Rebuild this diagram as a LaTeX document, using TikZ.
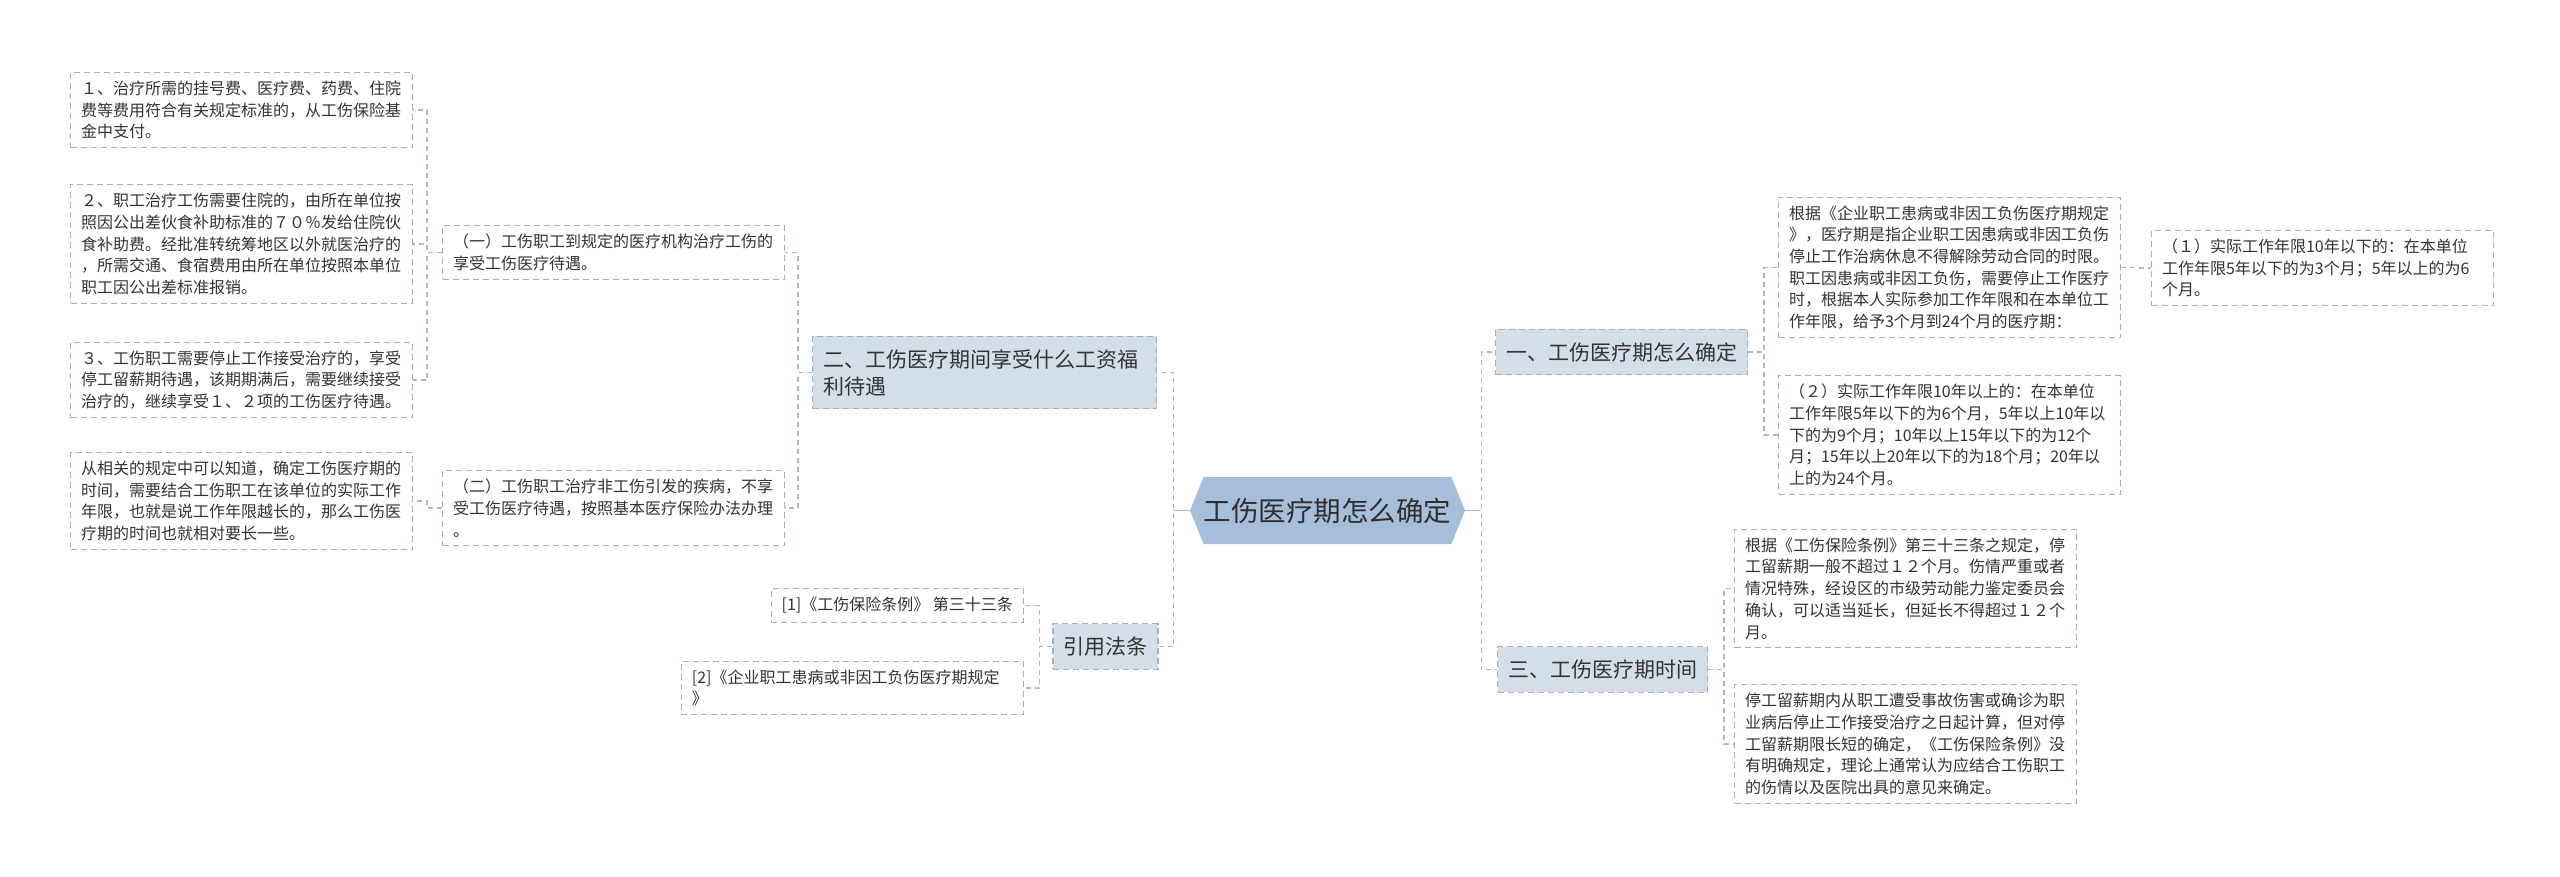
\documentclass[tikz,border=0pt]{standalone}
\usepackage{fontspec}
\setmainfont{Noto Sans CJK SC}
\usetikzlibrary{shapes.symbols}
\definecolor{hubfill}{HTML}{A5BFDA}
\definecolor{branchfill}{HTML}{D4DEE8}
\definecolor{boxline}{HTML}{A3AFBC}
\definecolor{linkline}{HTML}{A9B9CA}
\definecolor{inktext}{HTML}{333333}

\begin{document}
\begin{tikzpicture}[
  x=1pt, y=-1pt,
  link/.style={draw=linkline, line width=1.3pt, dash pattern=on 5pt off 4pt},
  hublink/.style={draw=hubfill, line width=1.8pt},
  note/.style={draw=boxline, line width=1.1pt, dash pattern=on 6pt off 4pt, fill=white, text=inktext, align=left, inner xsep=10.5pt, inner ysep=8.5pt, font=\fontsize{16}{21.7}\selectfont},
  leaf/.style={note, text width=321pt},
  branch/.style={draw=boxline, line width=1.1pt, dash pattern=on 6pt off 4pt, fill=branchfill, text=inktext, align=left, inner xsep=10.5pt, inner ysep=13pt, font=\fontsize{21}{27}\selectfont},
  hub/.style={signal, signal to=east and west, signal pointer angle=136, fill=hubfill, text=inktext!90!black, minimum width=275pt, minimum height=67pt, inner sep=0pt, font=\fontsize{27.5}{33}\selectfont}
]
\useasboundingbox[fill=white] (0,0) rectangle (2560,876);

\node[hub] (root) at (1327.5,510.5) {工伤医疗期怎么确定};

\node[branch, text width=323pt] (er) at (984.5,372.5) {二、工伤医疗期间享受什么工资福\\利待遇};
\node[branch] (yinyong) at (1105.5,646.5) {引用法条};
\node[branch] (yi) at (1621.5,352) {一、工伤医疗期怎么确定};
\node[branch] (san) at (1602.5,669.5) {三、工伤医疗期时间};

\node[leaf, anchor=west] (ka) at (442,252.5) {（一）工伤职工到规定的医疗机构治疗工伤的\\享受工伤医疗待遇。};
\node[leaf, anchor=west] (kb) at (442,508) {（二）工伤职工治疗非工伤引发的疾病，不享\\受工伤医疗待遇，按照基本医疗保险办法办理\\。};
\node[leaf, anchor=west] (l1) at (70,110) {１、治疗所需的挂号费、医疗费、药费、住院\\费等费用符合有关规定标准的，从工伤保险基\\金中支付。};
\node[leaf, anchor=west] (l2) at (70,244) {２、职工治疗工伤需要住院的，由所在单位按\\照因公出差伙食补助标准的７０％发给住院伙\\食补助费。经批准转统筹地区以外就医治疗的\\，所需交通、食宿费用由所在单位按照本单位\\职工因公出差标准报销。};
\node[leaf, anchor=west] (l3) at (70,380) {３、工伤职工需要停止工作接受治疗的，享受\\停工留薪期待遇，该期期满后，需要继续接受\\治疗的，继续享受１、２项的工伤医疗待遇。};
\node[leaf, anchor=west] (l4) at (70,501) {从相关的规定中可以知道，确定工伤医疗期的\\时间，需要结合工伤职工在该单位的实际工作\\年限，也就是说工作年限越长的，那么工伤医\\疗期的时间也就相对要长一些。};

\node[note, anchor=east] (c1) at (1024,605.5) {[1]《工伤保险条例》 第三十三条};
\node[leaf, anchor=east] (c2) at (1024,688) {[2]《企业职工患病或非因工负伤医疗期规定\\》};

\node[leaf, anchor=west] (r1) at (1778,267.5) {根据《企业职工患病或非因工负伤医疗期规定\\》，医疗期是指企业职工因患病或非因工负伤\\停止工作治病休息不得解除劳动合同的时限。\\职工因患病或非因工负伤，需要停止工作医疗\\时，根据本人实际参加工作年限和在本单位工\\作年限，给予3个月到24个月的医疗期：};
\node[leaf, anchor=west] (r2) at (1778,435) {（２）实际工作年限10年以上的：在本单位\\工作年限5年以下的为6个月，5年以上10年以\\下的为9个月；10年以上15年以下的为12个\\月；15年以上20年以下的为18个月；20年以\\上的为24个月。};
\node[leaf, anchor=west] (r3) at (2151,268) {（１）实际工作年限10年以下的：在本单位\\工作年限5年以下的为3个月；5年以上的为6\\个月。};
\node[leaf, anchor=west] (r4) at (1734,588.5) {根据《工伤保险条例》第三十三条之规定，停\\工留薪期一般不超过１２个月。伤情严重或者\\情况特殊，经设区的市级劳动能力鉴定委员会\\确认，可以适当延长，但延长不得超过１２个\\月。};
\node[leaf, anchor=west] (r5) at (1734,744) {停工留薪期内从职工遭受事故伤害或确诊为职\\业病后停止工作接受治疗之日起计算，但对停\\工留薪期限长短的确定，《工伤保险条例》没\\有明确规定，理论上通常认为应结合工伤职工\\的伤情以及医院出具的意见来确定。};

\draw[link] (root.west) -- ++(-16,0) |- (er.east);
\draw[link] (root.west) -- ++(-16,0) |- (yinyong.east);
\draw[link] (root.east) -- ++(16,0) |- (yi.west);
\draw[link] (root.east) -- ++(16,0) |- (san.west);
\draw[hublink] (root.west) -- ++(-16,0);
\draw[hublink] (root.east) -- ++(16,0);

\draw[link] (er.west) -- ++(-14,0) |- (ka.east);
\draw[link] (er.west) -- ++(-14,0) |- (kb.east);
\draw[link] (ka.west) -- ++(-15,0) |- (l1.east);
\draw[link] (ka.west) -- ++(-15,0) |- (l2.east);
\draw[link] (ka.west) -- ++(-15,0) |- (l3.east);
\draw[link] (kb.west) -- ++(-15,0) |- (l4.east);
\draw[link] (yinyong.west) -- ++(-13,0) |- (c1.east);
\draw[link] (yinyong.west) -- ++(-13,0) |- (c2.east);

\draw[link] (yi.east) -- ++(16,0) |- (r1.west);
\draw[link] (yi.east) -- ++(16,0) |- (r2.west);
\draw[link] (r1.east) -- ++(15,0) |- (r3.west);
\draw[link] (san.east) -- ++(16,0) |- (r4.west);
\draw[link] (san.east) -- ++(16,0) |- (r5.west);

\end{tikzpicture}
\end{document}
